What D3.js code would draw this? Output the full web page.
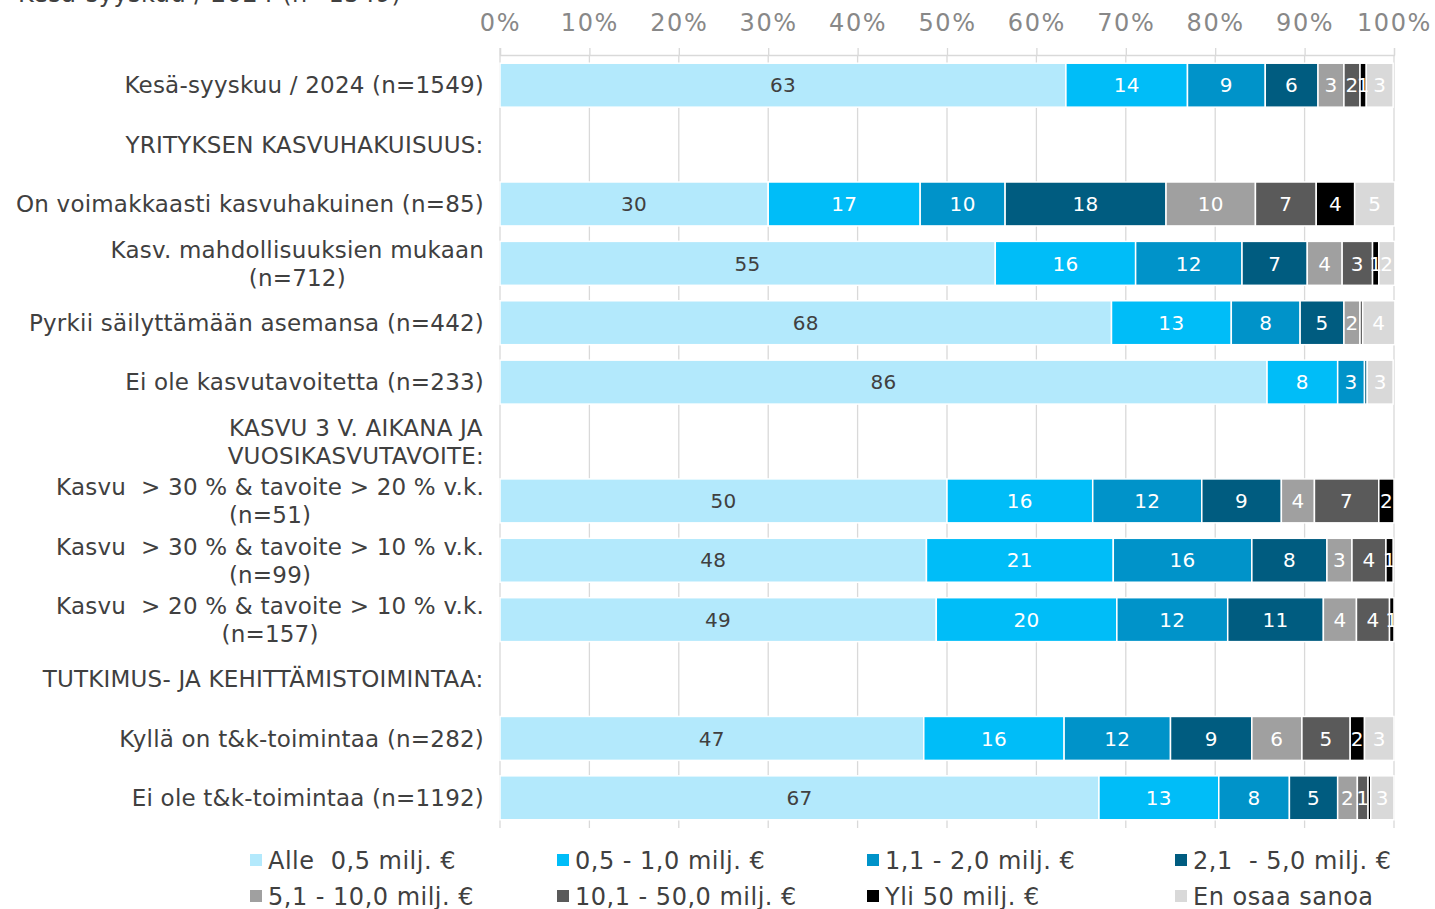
<!DOCTYPE html>
<html><head><meta charset="utf-8">
<script src="https://cdn.jsdelivr.net/npm/d3@7"></script>
<style>body{margin:0;background:#fff;} svg{display:block;}</style>
</head><body>
<svg id="chart" width="1435" height="909"></svg>
<script>
const title = "Kesä-syyskuu / 2024 (n=1549)";
const categories = [
  ["Kesä-syyskuu / 2024 (n=1549)"],
  ["YRITYKSEN KASVUHAKUISUUS:"],
  ["On voimakkaasti kasvuhakuinen (n=85)"],
  ["Kasv. mahdollisuuksien mukaan", "(n=712)"],
  ["Pyrkii säilyttämään asemansa (n=442)"],
  ["Ei ole kasvutavoitetta (n=233)"],
  ["KASVU 3 V. AIKANA JA", "VUOSIKASVUTAVOITE:"],
  ["Kasvu  > 30 % & tavoite > 20 % v.k.", "(n=51)"],
  ["Kasvu  > 30 % & tavoite > 10 % v.k.", "(n=99)"],
  ["Kasvu  > 20 % & tavoite > 10 % v.k.", "(n=157)"],
  ["TUTKIMUS- JA KEHITTÄMISTOIMINTAA:"],
  ["Kyllä on t&k-toimintaa (n=282)"],
  ["Ei ole t&k-toimintaa (n=1192)"]
];
const seriesNames = ["Alle  0,5 milj. €", "0,5 - 1,0 milj. €", "1,1 - 2,0 milj. €", "2,1  - 5,0 milj. €",
  "5,1 - 10,0 milj. €", "10,1 - 50,0 milj. €", "Yli 50 milj. €", "En osaa sanoa"];
const sAlle05   = [63.3, null, 30.0, 55.4, 68.4, 85.8, null, 50.0, 47.7, 48.8, null, 47.4, 67.0];
const s05_10    = [13.6, null, 17.0, 15.7, 13.4, 7.9, null, 16.3, 20.9, 20.2, null, 15.7, 13.4];
const s11_20    = [8.7, null, 9.5, 11.9, 7.7, 3.0, null, 12.2, 15.5, 12.4, null, 11.9, 7.9];
const s21_50    = [5.9, null, 18.0, 7.3, 4.9, 0.3, null, 8.9, 8.4, 10.7, null, 9.1, 5.4];
const s51_100   = [2.9, null, 10.0, 3.9, 1.8, 0, null, 3.7, 2.8, 3.7, null, 5.6, 2.2];
const s101_500  = [1.8, null, 6.8, 3.4, 0.3, 0, null, 7.2, 3.8, 3.7, null, 5.4, 1.2];
const sYli50    = [0.7, null, 4.3, 0.7, 0, 0, null, 1.7, 0.8, 0.5, null, 1.6, 0.3];
const sEnOsaa   = [3.0, null, 4.5, 1.8, 3.6, 2.9, null, 0, 0, 0, null, 3.3, 2.6];
const seriesValues = [sAlle05, s05_10, s11_20, s21_50, s51_100, s101_500, sYli50, sEnOsaa];
const tickValues = [0, 10, 20, 30, 40, 50, 60, 70, 80, 90, 100];
const colors = ["#b3e9fc", "#00bdf8", "#0093c9", "#005c80", "#a0a0a0", "#5a5a5a", "#000000", "#d9d9d9"];
const labelColors = ["#404040", "#fff", "#fff", "#fff", "#fff", "#fff", "#fff", "#fff"];

const FONT = "'DejaVu Sans', Verdana, sans-serif";
const svg = d3.select("#chart");
const x = d3.scaleLinear().domain([0, 100]).range([500, 1394]);
const y = d3.scaleBand().domain(d3.range(categories.length)).range([55.5, 827.5]).paddingInner(0.26).paddingOuter(0.13);

// title (cut off at top)
svg.append("text").attr("x", 18).attr("y", 2).attr("font-family", FONT).attr("font-size", 24)
  .attr("letter-spacing", 0.5).attr("fill", "#404040").text(title);

// gridlines
svg.append("g").selectAll("line").data(tickValues.slice(1)).join("line")
  .attr("x1", d => x(d)).attr("x2", d => x(d)).attr("y1", 55).attr("y2", 828)
  .attr("stroke", "#d9d9d9").attr("stroke-width", 1.3);

// top axis
const axis = d3.axisTop(x).tickValues(tickValues).tickFormat(d => d + "%").tickSize(7).tickPadding(17);
const gAxis = svg.append("g").attr("transform", "translate(0,55)").call(axis);
gAxis.select(".domain").attr("stroke", "#d9d9d9").attr("stroke-width", 1.3);
gAxis.selectAll(".tick line").attr("stroke", "#d9d9d9").attr("stroke-width", 1.3);
gAxis.selectAll(".tick text").attr("font-family", FONT).attr("font-size", 24).attr("letter-spacing", 1.6)
  .attr("fill", "#888");
// left axis line
svg.append("line").attr("x1", x(0)).attr("x2", x(0)).attr("y1", 48).attr("y2", 828)
  .attr("stroke", "#d9d9d9").attr("stroke-width", 1.3);

// stacked bars
const rows = categories.map((c, i) => {
  let acc = 0;
  return seriesValues.map((s, k) => {
    const v = s[i];
    if (v == null) return null;
    const seg = {row: i, k, v, x0: acc, x1: acc + v};
    acc += v;
    return seg;
  }).filter(d => d && d.v > 0);
});
const segs = rows.flat();
const gBars = svg.append("g");
gBars.selectAll("rect").data(segs).join("rect")
  .attr("x", d => x(d.x0)).attr("width", d => x(d.x1) - x(d.x0))
  .attr("y", d => y(d.row)).attr("height", y.bandwidth())
  .attr("fill", d => colors[d.k]).attr("stroke", "#fff").attr("stroke-width", 1.5);
gBars.selectAll("text").data(segs.filter(d => Math.round(d.v) >= 1)).join("text")
  .attr("x", d => (x(d.x0) + x(d.x1)) / 2).attr("y", d => y(d.row) + y.bandwidth() / 2)
  .attr("dy", "0.36em").attr("text-anchor", "middle")
  .attr("font-family", FONT).attr("font-size", 20).attr("letter-spacing", 0.3).attr("fill", d => labelColors[d.k])
  .text(d => Math.round(d.v));

// category labels
const gCat = svg.append("g");
categories.forEach((lines, i) => {
  const cy = y(i) + y.bandwidth() / 2;
  const t = gCat.append("text").attr("font-family", FONT).attr("font-size", 23).attr("letter-spacing", 0.2)
    .attr("fill", "#404040").attr("text-anchor", "middle");
  const lh = 28;
  lines.forEach((ln, j) => {
    t.append("tspan").attr("x", 0).attr("y", cy + (j - (lines.length - 1) / 2) * lh).attr("dy", "0.36em")
      .style("white-space", "pre").text(ln);
  });
  const w = t.node().getBBox().width;
  t.attr("transform", `translate(${484 - w / 2},0)`);
});

// legend
const legX = [250, 557, 867, 1175];
const legY = [860, 896];
const gLeg = svg.append("g");
seriesNames.forEach((n, k) => {
  const lx = legX[k % 4], ly = legY[Math.floor(k / 4)];
  gLeg.append("rect").attr("x", lx).attr("y", ly - 6).attr("width", 12).attr("height", 12).attr("fill", colors[k]);
  gLeg.append("text").attr("x", lx + 18).attr("y", ly).attr("dy", "0.36em")
    .attr("font-family", FONT).attr("font-size", 24).attr("letter-spacing", 0.5).attr("fill", "#404040")
    .style("white-space", "pre").text(n);
});
</script>
</body></html>
